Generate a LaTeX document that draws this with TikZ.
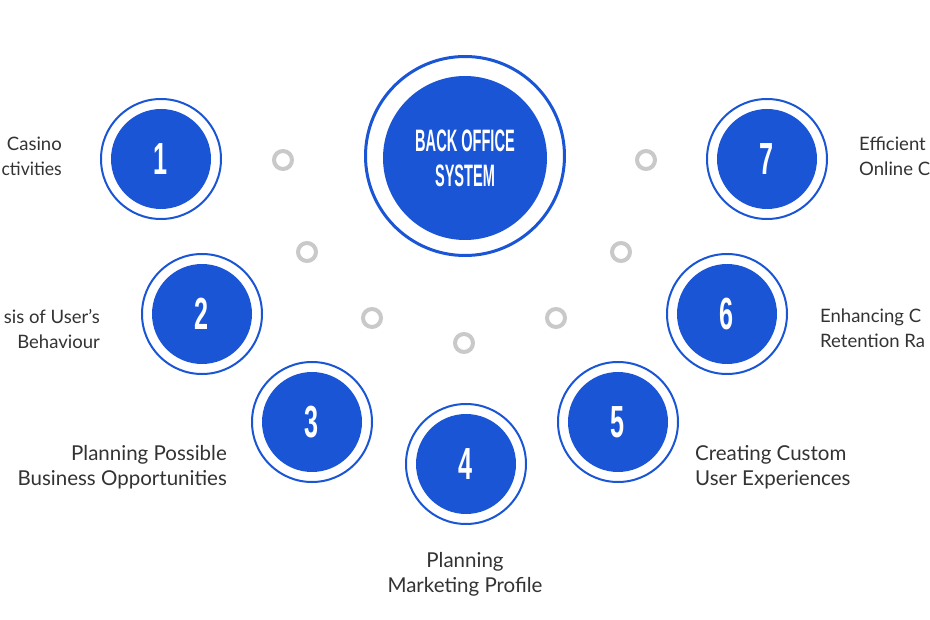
\documentclass[tikz,border=0pt]{standalone}
\usepackage{fontspec}
\usepackage{graphicx}
\setmainfont{Lato}
\newfontfamily\numfont{Liberation Sans}
\definecolor{bblue}{HTML}{1A55D6}
\definecolor{ringgray}{HTML}{C9C9C9}
\definecolor{txtgray}{HTML}{333333}
\begin{document}
\begin{tikzpicture}[x=1pt,y=-1pt,
  hubdisc/.style={circle, fill=bblue, minimum size=164pt, inner sep=0pt, text=white,
    font=\numfont\fontsize{31}{35}\selectfont, align=center},
  hubring/.style={circle, draw=bblue, line width=3pt, minimum size=199pt, inner sep=0pt},
  numdisc/.style={circle, fill=bblue, minimum size=100pt, inner sep=0pt, text=white,
    font=\numfont\fontsize{45}{45}\selectfont},
  numring/.style={circle, draw=bblue, line width=2pt, minimum size=120pt, inner sep=0pt},
  dotring/.style={circle, draw=ringgray, line width=4pt, minimum size=18pt, inner sep=0pt},
  lbl/.style={text=txtgray, font=\fontsize{20.5}{25}\selectfont, inner sep=0pt},
  edgelbl/.style={text=txtgray, font=\fontsize{18.5}{25}\selectfont, inner sep=0pt}
]
\useasboundingbox (0,0) rectangle (930,620);
\fill[white] (0,0) rectangle (930,620);

% hub
\node[hubring] (hubr) at (465,156) {};
\node[hubdisc] (hub) at (465,158) {\scalebox{0.47}[1]{\bfseries BACK OFFICE}\\\scalebox{0.47}[1]{\bfseries SYSTEM}};

% numbered circles
\foreach \i/\x/\y in {1/161/159, 2/202/314, 3/312/422, 4/466/464, 5/618/422, 6/727/314, 7/767/159}{
  \node[numring] (r\i) at (\x,\y) {};
  \node[numdisc] (n\i) at (\x,\y) {\scalebox{0.56}[1]{\bfseries\i}};
}

% small gray rings
\foreach \i/\x/\y in {1/283/160, 2/307/252, 3/372/318, 4/464/343, 5/556/318, 6/621/252, 7/646/160}{
  \node[dotring] (d\i) at (\x,\y) {};
}

% labels
\node[edgelbl, align=right, anchor=east] (t1) at (62,156) {Casino\\\scalebox{0.95}[1]{ctivities}};
\node[edgelbl, align=right, anchor=east] (t2) at (100,329) {sis of User's\\Behaviour};
\node[lbl, align=right, anchor=east] (t3) at (227,467) {Planning Possible\\Business Opportunities};
\node[lbl, align=center, anchor=center] (t4) at (465,574) {Planning\\Marketing Profile};
\node[lbl, align=left, anchor=west] (t5) at (695,467) {Creating Custom\\User Experiences};
\node[edgelbl, align=left, anchor=west] (t6) at (820,328) {Enhancing C\\Retention Ra};
\node[edgelbl, align=left, anchor=west] (t7) at (859,156) {Efficient\\Online C};
\end{tikzpicture}
\end{document}
